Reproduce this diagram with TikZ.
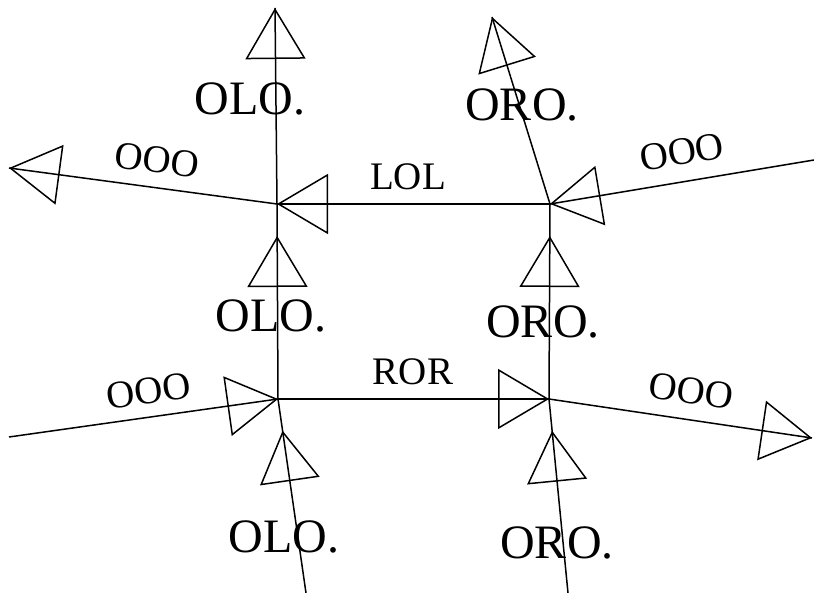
\documentclass[tikz,border=0pt]{standalone}
\usepackage{fontspec}
\setmainfont{Liberation Serif}
\usetikzlibrary{arrows.meta,decorations.markings}
\tikzset{
  tri/.tip={Triangle[open,length=51pt,width=60pt]},
  wire/.style={line width=1.5pt, postaction={decorate, decoration={markings, mark=at position #1 with {\arrow[line width=1.5pt]{tri}}}}},
  biglbl/.style={font=\fontsize{48}{50}\selectfont, inner sep=0pt},
  smalllbl/.style={font=\fontsize{39}{41}\selectfont, inner sep=0pt}
}
\begin{document}
\begin{tikzpicture}[x=1pt,y=-1pt]
\useasboundingbox[fill=white] (0,0) rectangle (814,593);
\coordinate (TL) at (277,204);
\coordinate (TR) at (550,204);
\coordinate (BL) at (278,399);
\coordinate (BR) at (549,399);
\coordinate (tlUp) at (275,8);
\coordinate (tlLeft) at (9,168);
\coordinate (trUp) at (492,17);
\coordinate (trRight) at (814,160);
\coordinate (blLeft) at (9,437);
\coordinate (brRight) at (812,438);
\coordinate (blDown) at (306,593);
\coordinate (brDown) at (568,593);
% connectors
\draw[wire=1] (TL) -- (tlUp);
\draw[wire=1] (TL) -- (tlLeft);
\draw[wire=1] (TR) -- (TL);
\draw[wire=-32pt] (BL) -- (TL);
\draw[wire=1] (TR) -- (trUp);
\draw[wire=1] (trRight) -- (TR);
\draw[wire=-32pt] (BR) -- (TR);
\draw[wire=1] (BL) -- (BR);
\draw[wire=1] (blLeft) -- (BL);
\draw[wire=1] (BR) -- (brRight);
\draw[wire=-32pt] (blDown) -- (BL);
\draw[wire=-32pt] (brDown) -- (BR);
% labels
\node[biglbl] (l1) at (250,99) {OLO.};
\node[biglbl] (l2) at (522,105) {ORO.};
\node[biglbl] (l3) at (271,316) {OLO.};
\node[biglbl] (l4) at (543,322) {ORO.};
\node[biglbl] (l5) at (284,537) {OLO.};
\node[biglbl] (l6) at (557,543) {ORO.};
\node[smalllbl, rotate=-7.6] (o1) at (157,160) {OOO};
\node[smalllbl, rotate=9.5] (o2) at (682,152) {OOO};
\node[smalllbl, rotate=8] (o3) at (149,391) {OOO};
\node[smalllbl, rotate=-8.3] (o4) at (691,391) {OOO};
\node[smalllbl] (lol) at (408,177) {LOL};
\node[smalllbl] (ror) at (413,372) {ROR};
\end{tikzpicture}
\end{document}
